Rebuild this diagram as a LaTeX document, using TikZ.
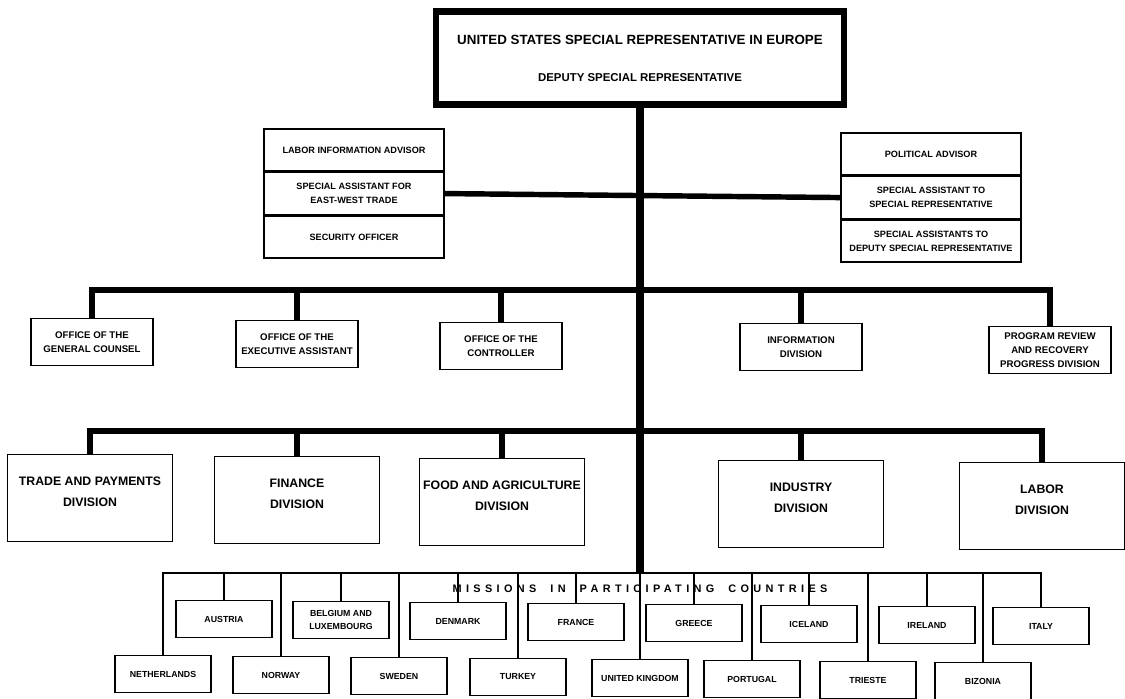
\documentclass[tikz,border=0pt]{standalone}
\usepackage{fontspec}
\setmainfont{Liberation Sans}
\usetikzlibrary{positioning}
\usetikzlibrary{calc}

\begin{document}
\begin{tikzpicture}[x=0.02cm,y=-0.02cm,
        trunk/.style={line width=4.6pt},
        bus/.style={line width=3.8pt,line join=miter},
        sidebus/.style={line width=3.1pt},
        missionbus/.style={line width=1.6pt,line join=miter},
        missionline/.style={line width=1.1pt},
        orgbox/.style={draw,line width=0.9pt,align=center,inner sep=1pt},
        staffbox/.style={orgbox,minimum width=3.6cm,minimum height=0.84cm,font={\bfseries\fontsize{5.2}{8}\selectfont}},
        officebox/.style={orgbox,minimum width=2.44cm,minimum height=0.94cm,font={\bfseries\fontsize{5.5}{8}\selectfont}},
        divbox/.style={orgbox,minimum width=3.3cm,minimum height=1.74cm,text depth=7pt,font={\bfseries\fontsize{7}{12}\selectfont}},
        missionbox/.style={orgbox,minimum width=1.92cm,minimum height=0.74cm,font={\bfseries\fontsize{5}{7}\selectfont}}]
                \useasboundingbox (0,0) rectangle (1125,699);

                \node[draw,line width=3.6pt,minimum width=8.16cm,minimum height=1.86cm,align=center] (usrep) at (640,58) {{\bfseries\fontsize{7.6}{9}\selectfont UNITED STATES SPECIAL REPRESENTATIVE IN EUROPE}\\[9pt]{\bfseries\fontsize{6.5}{8}\selectfont DEPUTY SPECIAL REPRESENTATIVE}};
                \draw[line width=0.5pt] ($(usrep.north west)+(5,5)$) rectangle ($(usrep.south east)+(-5,-5)$);

                \node[staffbox] (labadv) at (354,150) {LABOR INFORMATION ADVISOR};
                \node[staffbox,below=0pt of labadv] (eastwest) {SPECIAL ASSISTANT FOR\\EAST-WEST TRADE};
                \node[staffbox,below=0pt of eastwest] (secoff) {SECURITY OFFICER};
                \node[staffbox] (poladv) at (931,154) {POLITICAL ADVISOR};
                \node[staffbox,below=0pt of poladv] (asstsr) {SPECIAL ASSISTANT TO\\SPECIAL REPRESENTATIVE};
                \node[staffbox,below=0pt of asstsr] (asstdsr) {SPECIAL ASSISTANTS TO\\DEPUTY SPECIAL REPRESENTATIVE};

                \node[officebox] (gencoun) at (92,342) {OFFICE OF THE\\GENERAL COUNSEL};
                \node[officebox] (execasst) at (297,344) {OFFICE OF THE\\EXECUTIVE ASSISTANT};
                \node[officebox] (contr) at (501,346) {OFFICE OF THE\\CONTROLLER};
                \node[officebox] (infodiv) at (801,347) {INFORMATION\\DIVISION};
                \node[officebox] (progrev) at (1050,350) {PROGRAM REVIEW\\AND RECOVERY\\PROGRESS DIVISION};

                \node[divbox] (tradepay) at (90,498) {TRADE AND PAYMENTS\\DIVISION};
                \node[divbox] (finance) at (297,500) {FINANCE\\DIVISION};
                \node[divbox] (foodagr) at (502,502) {FOOD AND AGRICULTURE\\DIVISION};
                \node[divbox] (industry) at (801,504) {INDUSTRY\\DIVISION};
                \node[divbox] (labor) at (1042,506) {LABOR\\DIVISION};

                \node[missionbox] (austria) at (224,619) {AUSTRIA};
                \node[missionbox] (belglux) at (341,620) {BELGIUM AND\\LUXEMBOURG};
                \node[missionbox] (denmark) at (458,621) {DENMARK};
                \node[missionbox] (france) at (576,622) {FRANCE};
                \node[missionbox] (greece) at (694,623) {GREECE};
                \node[missionbox] (iceland) at (809,624) {ICELAND};
                \node[missionbox] (ireland) at (927,625) {IRELAND};
                \node[missionbox] (italy) at (1041,626) {ITALY};
                \node[missionbox] (netherl) at (163,674) {NETHERLANDS};
                \node[missionbox] (norway) at (281,675) {NORWAY};
                \node[missionbox] (sweden) at (399,676) {SWEDEN};
                \node[missionbox] (turkey) at (518,677) {TURKEY};
                \node[missionbox] (uk) at (640,678) {UNITED KINGDOM};
                \node[missionbox] (portugal) at (752,679) {PORTUGAL};
                \node[missionbox] (trieste) at (868,680) {TRIESTE};
                \node[missionbox] (bizonia) at (983,681) {BIZONIA};

                \coordinate (bus1) at (640,290);
                \coordinate (bus2) at (640,431);
                \coordinate (mjoin) at (640,573);

                \draw[trunk] (usrep.south) -- (mjoin);
                \draw[sidebus] (eastwest.east) -- (asstsr.west);

                \draw[bus] (gencoun.north) |- (bus1) -| (progrev.north);
                \draw[bus] (execasst.north) -- (execasst.north |- bus1);
                \draw[bus] (contr.north) -- (contr.north |- bus1);
                \draw[bus] (infodiv.north) -- (infodiv.north |- bus1);

                \draw[bus] (tradepay.north) |- (bus2) -| (labor.north);
                \draw[bus] (finance.north) -- (finance.north |- bus2);
                \draw[bus] (foodagr.north) -- (foodagr.north |- bus2);
                \draw[bus] (industry.north) -- (industry.north |- bus2);

                \draw[missionbus] (netherl.north) |- (mjoin) -| (italy.north);
                \draw[missionline] (mjoin) -- (uk.north);
                \draw[missionline] (austria.north) -- (austria.north |- mjoin);
                \draw[missionline] (belglux.north) -- (belglux.north |- mjoin);
                \draw[missionline] (denmark.north) -- (denmark.north |- mjoin);
                \draw[missionline] (france.north) -- (france.north |- mjoin);
                \draw[missionline] (greece.north) -- (greece.north |- mjoin);
                \draw[missionline] (iceland.north) -- (iceland.north |- mjoin);
                \draw[missionline] (ireland.north) -- (ireland.north |- mjoin);
                \draw[missionline] (norway.north) -- (norway.north |- mjoin);
                \draw[missionline] (sweden.north) -- (sweden.north |- mjoin);
                \draw[missionline] (turkey.north) -- (turkey.north |- mjoin);
                \draw[missionline] (portugal.north) -- (portugal.north |- mjoin);
                \draw[missionline] (trieste.north) -- (trieste.north |- mjoin);
                \draw[missionline] (bizonia.north) -- (bizonia.north |- mjoin);

                \node[font={\bfseries\fontsize{6.2}{7}\selectfont\addfontfeatures{LetterSpace=40}}] (mtitle) at (640,589) {MISSIONS\hspace{8pt}IN\hspace{8pt}PARTICIPATING\hspace{8pt}COUNTRIES};
\end{tikzpicture}
\end{document}
